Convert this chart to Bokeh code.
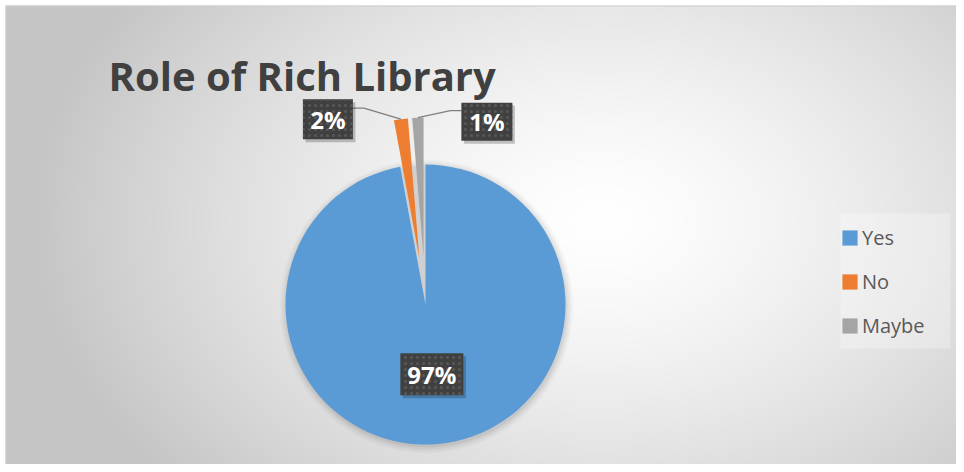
import numpy as np
from bokeh.plotting import figure
from bokeh.models import ColumnDataSource, Label, Legend, LegendItem
from bokeh.core.properties import value
from bokeh.embed import file_html
from bokeh.resources import INLINE

# ---- data ----
categories = ["Yes", "No", "Maybe"]
shares = [97.1, 1.6, 1.3]
pct_labels = ["97%", "2%", "1%"]
colors = ["#5B9BD5", "#ED7D31", "#A5A5A5"]
exploded = [False, True, True]
title_text = "Role of Rich Library"

# ---- layout (plot units == reference pixels, y flipped) ----
W, H = 956, 464


def px(xr):
    return xr


def py(yr):
    return H - yr


p = figure(width=W, height=H, x_range=(0, W), y_range=(0, H),
           output_backend="svg", toolbar_location=None,
           x_axis_type=None, y_axis_type=None, min_border=0)
p.outline_line_color = None
p.grid.visible = False
p.background_fill_color = "#ffffff"
p.border_fill_color = "#ffffff"

# background radial gradient (chart area starts at 5,5)
M = 5
GW, GH = W - M, H - M
yy, xx = np.mgrid[0:GH, 0:GW]
ref_x = xx + M + 0.5
ref_y = H - (yy + 0.5)
t = np.sqrt(((ref_x - 600) / 570) ** 2 + ((ref_y - 220) / 400) ** 2)
v = (255 - 58 * np.clip(t, 0, 1) ** 1.4).astype(np.uint8)
img = np.empty((GH, GW), dtype=np.uint32)
view = img.view(dtype=np.uint8).reshape((GH, GW, 4))
view[..., 0] = v
view[..., 1] = v
view[..., 2] = v
view[..., 3] = 255
p.image_rgba(image=[img], x=M, y=0, dw=GW, dh=GH)

# chart border (top & left)
p.line(x=[M + 0.5, M + 0.5, W], y=[0, H - M - 0.5, H - M - 0.5],
       line_color="#d0d0d0", line_width=1)

# pie geometry
cx, cy, R, EXPL = px(425), py(304), 140, 47
total = float(sum(shares))
starts, ends = [], []
acc = 0.0
for s in shares:
    starts.append(np.pi / 2 - 2 * np.pi * acc / total)
    acc += s
    ends.append(np.pi / 2 - 2 * np.pi * acc / total)
mids = [(a + b) / 2 for a, b in zip(starts, ends)]
xs = [cx + (EXPL if e else 0) * np.cos(m) for e, m in zip(exploded, mids)]
ys = [cy + (EXPL if e else 0) * np.sin(m) for e, m in zip(exploded, mids)]

# soft shadow under the pie
for k, a in [(7, 0.02), (5, 0.03), (3, 0.04), (1, 0.05)]:
    p.circle(x=[cx + 1], y=[cy - 2], radius=R + k, fill_color="black",
             fill_alpha=a, line_color=None)

src = ColumnDataSource(dict(x=xs, y=ys, start=starts, end=ends,
                            color=colors, cat=categories))
r = p.wedge(x="x", y="y", radius=R, start_angle="start", end_angle="end",
            direction="clock", fill_color="color", line_color=None,
            source=src)

# data labels
inner = (cx + 0.5 * R * np.cos(mids[0]), cy + 0.5 * R * np.sin(mids[0]))
outer = [(xs[i] + R * np.cos(mids[i]), ys[i] + R * np.sin(mids[i])) for i in range(3)]
box_off = [None, (-73, 0), (69, -4)]
box_w = [63, 50, 51]
box_h = [42, 40, 38]
lx, ly = [inner[0]], [inner[1]]
for i in (1, 2):
    lx.append(outer[i][0] + box_off[i][0])
    ly.append(outer[i][1] + box_off[i][1])

# leader lines
for i, side in ((1, 1), (2, -1)):
    edge_x = lx[i] + side * box_w[i] / 2
    att_y = ly[i] + 11
    p.line(x=[edge_x, edge_x + side * 11, outer[i][0]],
           y=[att_y, att_y, outer[i][1]], line_color="#7f7f7f", line_width=1.4)

lab = ColumnDataSource(dict(x=lx, y=ly, w=box_w, h=box_h, text=pct_labels,
                            sx=[a + 2.5 for a in lx], sy=[b - 3 for b in ly]))
p.rect(x="sx", y="sy", width="w", height="h", source=lab,
       fill_color="black", fill_alpha=0.22, line_color=None)
p.rect(x="x", y="y", width="w", height="h", source=lab,
       fill_color="#404040", line_color=None,
       hatch_pattern=".", hatch_color="#585858", hatch_scale=6, hatch_weight=1.2)
p.text(x="x", y="y", text="text", source=lab, text_color="white",
       text_font=value("Open Sans"), text_font_style="bold",
       text_font_size="24px", text_align="center", text_baseline="middle")

# title
p.add_layout(Label(x=px(108), y=py(75), text=title_text, text_font="Open Sans",
                   text_font_style="bold", text_font_size="40px",
                   text_color="#404040", text_baseline="alphabetic"))

# legend background panel
p.rect(x=[px(895)], y=[py(280.5)], width=110, height=135,
       fill_color="#ffffff", fill_alpha=0.28, line_color=None)

legend = Legend(items=[LegendItem(label=c, renderers=[r], index=i)
                       for i, c in enumerate(categories)],
                location=(px(840), py(339)), orientation="vertical",
                glyph_width=19, glyph_height=19, label_standoff=3,
                label_text_font="Open Sans", label_text_font_size="20px",
                label_text_color="#595959", spacing=17, padding=10,
                background_fill_alpha=0, border_line_color=None, margin=0)
p.add_layout(legend)

open("out.html", "w").write(file_html(p, INLINE))
